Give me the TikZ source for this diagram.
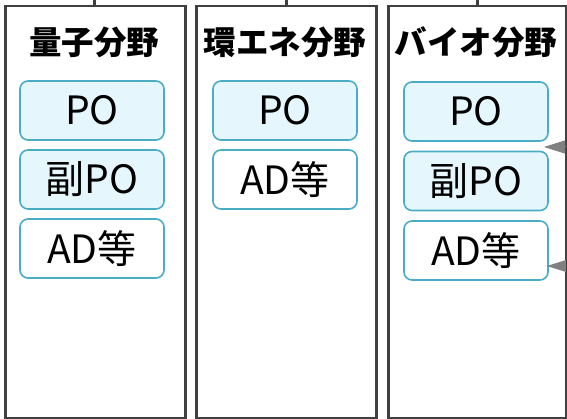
\documentclass[tikz,border=0pt]{standalone}
\usepackage{fontspec}
\setmainfont{Noto Sans CJK JP}
\usetikzlibrary{arrows.meta}
\definecolor{frameline}{HTML}{404040}
\definecolor{boxline}{HTML}{4BACC6}
\definecolor{boxfill}{HTML}{E5F7FD}
\definecolor{arrowgray}{HTML}{808080}
\tikzset{
  column/.style={draw=frameline, line width=2.5pt, fill=white, minimum height=412pt, inner sep=0pt, anchor=north west},
  title/.style={font=\bfseries\fontsize{32.5}{32.5}\selectfont, inner sep=0pt},
  rolebox/.style={draw=boxline, line width=1.6pt, rounded corners=8pt, fill=boxfill, minimum width=144pt, minimum height=59pt, inner sep=0pt, font=\fontsize{39}{39}\selectfont},
  adbox/.style={rolebox, fill=white},
  stub/.style={draw=frameline, line width=3pt},
  inarrow/.style={draw=arrowgray, line width=1pt, -{Triangle[length=21pt,width=13pt]}}
}
\begin{document}
\begin{tikzpicture}[x=1pt,y=-1pt]
\useasboundingbox (0,0) rectangle (567,419);
% columns
\node[column, minimum width=180pt] (c1) at (4,5) {};
\node[column, minimum width=180pt] (c2) at (195,5) {};
\node[column, minimum width=178pt] (c3) at (387,5) {};
% stubs
\coordinate (s1) at (94,-2);
\coordinate (s2) at (286,-2);
\coordinate (s3) at (477,-2);
\draw[stub] (s1) -- (c1.north -| s1);
\draw[stub] (s2) -- (c2.north -| s2);
\draw[stub] (s3) -- (c3.north -| s3);
% titles
\node[title] (t1) at (94,42) {量子分野};
\node[title] (t2) at (285,42) {環エネ分野};
\node[title] (t3) at (476,42) {バイオ分野};
% column 1
\node[rolebox] (q1) at (92,110.5) {PO};
\node[rolebox] (q2) at (92,179.5) {副PO};
\node[adbox] (q3) at (92,248.5) {AD等};
% column 2
\node[rolebox] (e1) at (285,110.5) {PO};
\node[adbox] (e2) at (285,179.5) {AD等};
% column 3
\node[rolebox] (b1) at (476,111.5) {PO};
\node[rolebox] (b2) at (476,181) {副PO};
\node[adbox] (b3) at (476,250.5) {AD等};
% arrows from outside
\coordinate (a1s) at (580,147);
\coordinate (a1e) at (544,147);
\coordinate (a2s) at (580,266);
\coordinate (a2e) at (547,266);
\draw[inarrow] (a1s) -- (a1e);
\draw[inarrow] (a2s) -- (a2e);
\draw[draw=frameline, line width=2.5pt] (c3.north east) -- (c3.south east);
\end{tikzpicture}
\end{document}
